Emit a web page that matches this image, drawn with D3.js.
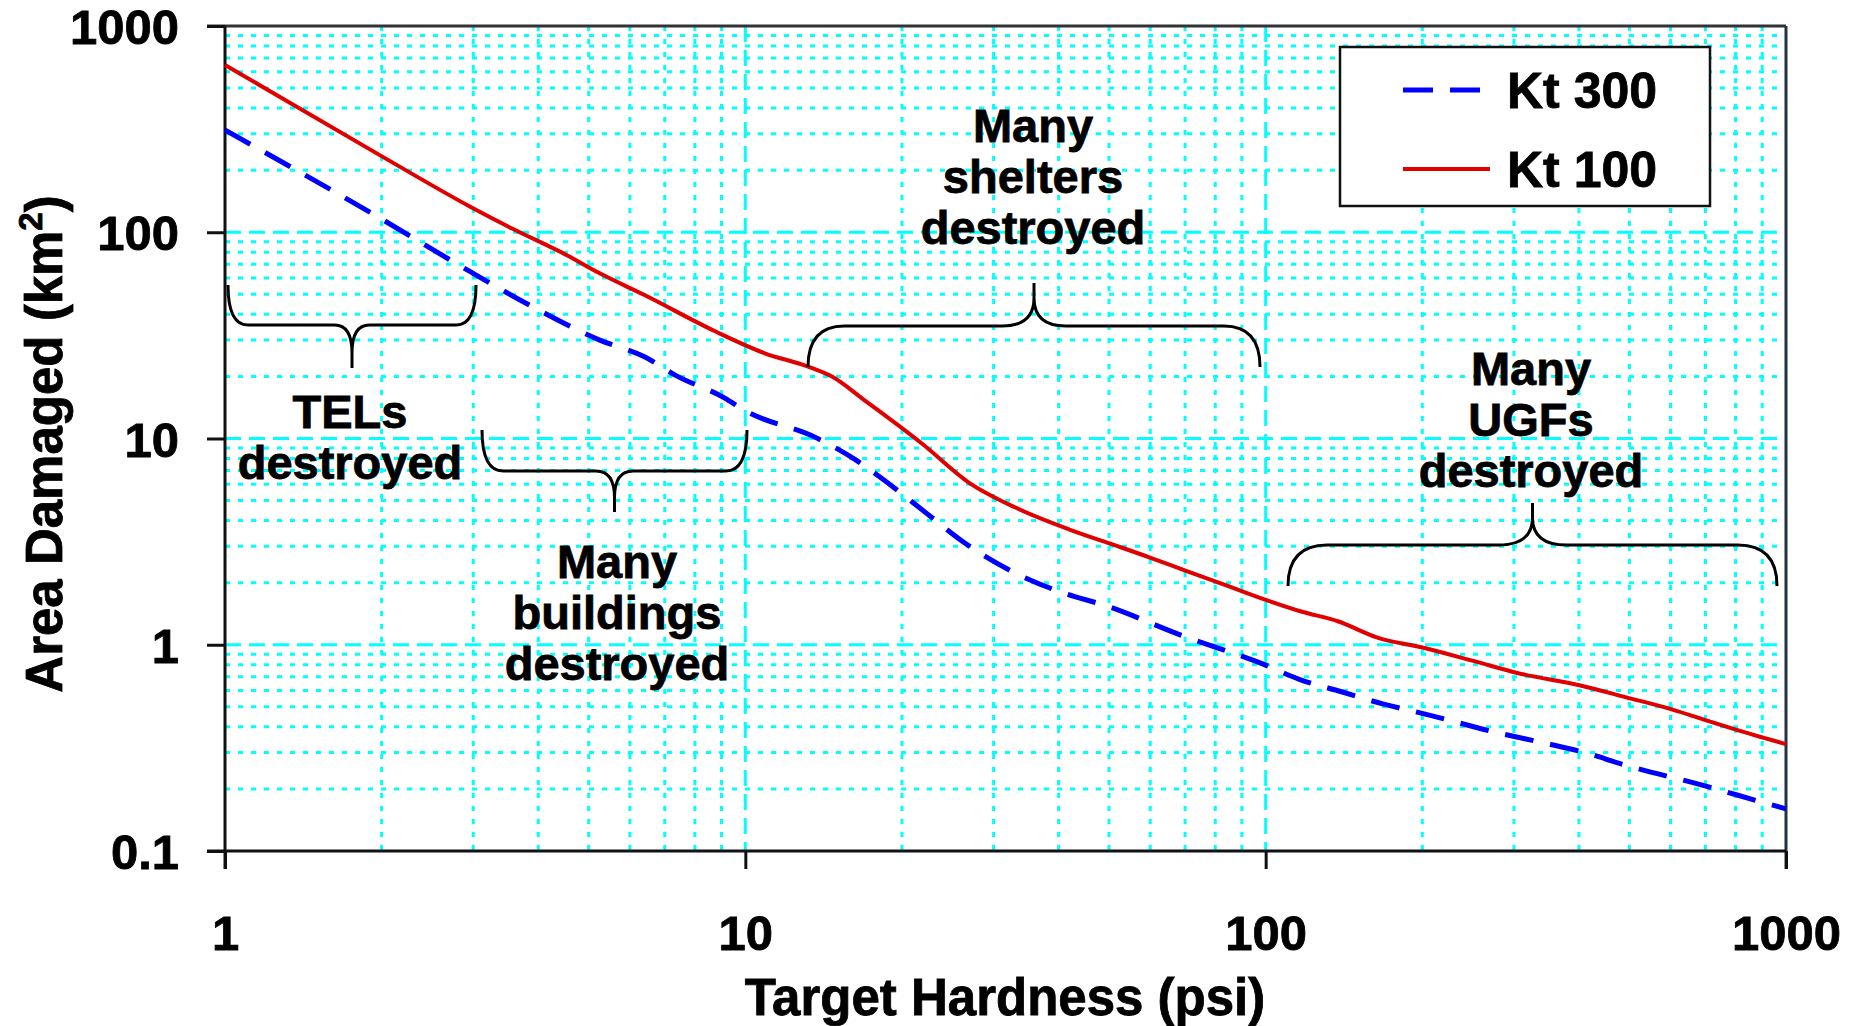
<!DOCTYPE html>
<html><head><meta charset="utf-8">
<script src="https://cdn.jsdelivr.net/npm/d3@7"></script>
<style>
body{margin:0;background:#fff}
svg{display:block}
text{font-family:"Liberation Sans",Arial,Helvetica,sans-serif;font-weight:bold;fill:#000;stroke:#000;stroke-width:0.8px}
</style>
</head><body>
<svg id="c" width="1851" height="1026"></svg>
<script>
// ---------- data ----------
const seriesNames = ["Kt 300", "Kt 100"];
const psiKt100  = [1, 2.01, 2.96, 3.57, 4.53, 5.25, 6.4, 8.77, 10.9, 13.2, 14.7, 16.9, 21.9, 26.8, 33.2, 42.1, 50.3, 60.1, 70.3, 84, 99.4, 117, 137.6, 164.5, 200, 252.6, 304.5, 402.7, 493, 603, 693, 798, 1000];
const areaKt100 = [647, 232, 133, 104, 77.6, 63.2, 49.6, 33, 25.9, 22.3, 19.9, 15.4, 9.4, 6.15, 4.6, 3.61, 3.09, 2.64, 2.28, 1.94, 1.66, 1.45, 1.30, 1.08, 0.97, 0.83, 0.73, 0.635, 0.556, 0.486, 0.435, 0.389, 0.33];
const psiKt300  = [1, 2.01, 2.96, 3.95, 5.25, 6.4, 7.33, 9.13, 9.96, 13.7, 16.3, 18, 22.4, 26.2, 33.2, 41.2, 49.2, 68.9, 98.4, 116, 140.4, 168.6, 200, 282, 345, 403, 493, 693, 875, 1000];
const areaKt300 = [313, 115, 64.4, 42.8, 30, 24.9, 20.3, 15.7, 13.7, 10.07, 7.87, 6.6, 4.3, 3.16, 2.21, 1.77, 1.55, 1.11, 0.81, 0.68, 0.59, 0.515, 0.465, 0.372, 0.333, 0.304, 0.26, 0.208, 0.176, 0.16];
const xTickValues = [1, 10, 100, 1000];
const yTickValues = [0.1, 1, 10, 100, 1000];
const xTitle = "Target Hardness (psi)";
const yTitle = "Area Damaged (km";
const annotationLines = [
  ["TELs", "destroyed"],
  ["Many", "buildings", "destroyed"],
  ["Many", "shelters", "destroyed"],
  ["Many", "UGFs", "destroyed"]
];

// ---------- layout ----------
const W = 1851, H = 1026;
const M = {l: 225, t: 26, r: 1786, b: 851};
const svg = d3.select("#c");
svg.append("rect").attr("width", W).attr("height", H).attr("fill", "#fff");

const x = d3.scaleLog().domain([1, 1000]).range([M.l, M.r]);
const y = d3.scaleLog().domain([0.1, 1000]).range([M.b, M.t]);

// ---------- grid ----------
const minorX = [], minorY = [];
[1, 10, 100].forEach(k => { for (let j = 2; j <= 9; j++) minorX.push(j * k); });
[0.1, 1, 10, 100].forEach(k => { for (let j = 2; j <= 9; j++) minorY.push(+(j * k).toPrecision(3)); });
const majorX = [10, 100], majorY = [1, 10, 100];
const grid = svg.append("g").attr("stroke", "#00ffff").attr("stroke-width", 3).attr("fill", "none");
grid.selectAll(".mx").data(minorX).join("line")
  .attr("x1", d => x(d)).attr("x2", d => x(d)).attr("y1", M.t).attr("y2", M.b)
  .attr("stroke-dasharray", "5,8");
grid.selectAll(".my").data(minorY).join("line")
  .attr("y1", d => y(d)).attr("y2", d => y(d)).attr("x1", M.l).attr("x2", M.r)
  .attr("stroke-dasharray", "5,8");
grid.selectAll(".Mx").data(majorX).join("line")
  .attr("x1", d => x(d)).attr("x2", d => x(d)).attr("y1", M.t).attr("y2", M.b)
  .attr("stroke-dasharray", "16,8");
grid.selectAll(".My").data(majorY).join("line")
  .attr("y1", d => y(d)).attr("y2", d => y(d)).attr("x1", M.l).attr("x2", M.r)
  .attr("stroke-dasharray", "16,8");

// ---------- frame ----------
const frame = svg.append("g").attr("stroke", "#111").attr("stroke-width", 3).attr("fill", "none");
frame.append("line").attr("x1", M.l - 18).attr("x2", M.r).attr("y1", M.t).attr("y2", M.t).attr("stroke", "#333");
frame.append("line").attr("x1", M.r).attr("x2", M.r).attr("y1", M.t).attr("y2", M.b + 18).attr("stroke", "#234");
frame.append("line").attr("x1", M.l).attr("x2", M.l).attr("y1", M.t).attr("y2", M.b + 18);
frame.append("line").attr("x1", M.l - 18).attr("x2", M.r).attr("y1", M.b).attr("y2", M.b);

// ---------- axes ----------
const fmt = d3.format("~g");
const gx = svg.append("g").attr("transform", `translate(0,${M.b})`)
  .call(d3.axisBottom(x).tickValues(xTickValues).tickFormat(fmt).tickSize(18).tickSizeOuter(0));
gx.select(".domain").remove();
gx.selectAll(".tick line").attr("stroke", "#111").attr("stroke-width", 3);
gx.selectAll(".tick text").attr("y", 99).attr("dy", 0).style("font-size", "49px")
  .style("font-family", '"Liberation Sans",Arial,sans-serif').style("font-weight", "bold").attr("fill", "#000");

const gy = svg.append("g").attr("transform", `translate(${M.l},0)`)
  .call(d3.axisLeft(y).tickValues(yTickValues).tickFormat(fmt).tickSize(18).tickPadding(28).tickSizeOuter(0));
gy.select(".domain").remove();
gy.selectAll(".tick line").attr("stroke", "#111").attr("stroke-width", 3);
gy.selectAll(".tick text").attr("dy", "0.36em").style("font-size", "49px")
  .style("font-family", '"Liberation Sans",Arial,sans-serif').style("font-weight", "bold").attr("fill", "#000");

// axis titles
svg.append("text").attr("x", 1005).attr("y", 1015).attr("text-anchor", "middle")
  .style("font-size", "51px").text(xTitle);
const yt = svg.append("text").attr("transform", "translate(62,444) rotate(-90)")
  .attr("text-anchor", "middle").style("font-size", "51px");
yt.append("tspan").text(yTitle);
yt.append("tspan").attr("dy", -20).style("font-size", "33px").text("2");
yt.append("tspan").attr("dy", 20).text(")");

// ---------- curves ----------
const line = d3.line().x(d => x(d[0])).y(d => y(d[1])).curve(d3.curveMonotoneX);
const kt300 = psiKt300.map((p, i) => [p, areaKt300[i]]);
const kt100 = psiKt100.map((p, i) => [p, areaKt100[i]]);
svg.append("path").datum(kt100).attr("d", line).attr("fill", "none")
  .attr("stroke", "#e00000").attr("stroke-width", 4);
svg.append("path").datum(kt300).attr("d", line).attr("fill", "none")
  .attr("stroke", "#0000ff").attr("stroke-width", 5).attr("stroke-dasharray", "29,17");

// ---------- braces ----------
function brace(x0, x1, yEnd, yLine, yTip) {
  const w = x1 - x0, xm = (x0 + x1) / 2;
  const rx = w * 0.08, rt = w * 0.07;
  const d = Math.sign(yTip - yLine);
  const hv = Math.abs(yTip - yLine) * 0.65;
  return `M${x0},${yEnd} Q${x0},${yLine} ${x0 + rx},${yLine} L${xm - rt},${yLine} Q${xm},${yLine} ${xm},${yLine + d * hv} L${xm},${yTip}` +
         ` M${xm},${yLine + d * hv} Q${xm},${yLine} ${xm + rt},${yLine} L${x1 - rx},${yLine} Q${x1},${yLine} ${x1},${yEnd}`;
}
const braces = [
  {x0: 228, x1: 476, yEnd: 285, yLine: 325, yTip: 368},
  {x0: 482, x1: 747, yEnd: 430, yLine: 471, yTip: 512},
  {x0: 808, x1: 1260, yEnd: 367, yLine: 326, yTip: 283},
  {x0: 1288, x1: 1777, yEnd: 586, yLine: 545, yTip: 503}
];
svg.append("g").selectAll("path").data(braces).join("path")
  .attr("d", b => brace(b.x0, b.x1, b.yEnd, b.yLine, b.yTip))
  .attr("fill", "none").attr("stroke", "#000").attr("stroke-width", 3);

const labelPos = [
  {cx: 350, y0: 428},
  {cx: 617, y0: 578},
  {cx: 1033, y0: 142},
  {cx: 1531, y0: 385}
];
annotationLines.forEach((lines, i) => {
  const t = svg.append("text").attr("text-anchor", "middle").style("font-size", "47px");
  lines.forEach((s, j) => t.append("tspan").attr("x", labelPos[i].cx).attr("y", labelPos[i].y0 + j * 51).text(s));
});

// ---------- legend ----------
const lg = svg.append("g");
lg.append("rect").attr("x", 1340).attr("y", 47).attr("width", 370).attr("height", 159)
  .attr("fill", "#fff").attr("stroke", "#111").attr("stroke-width", 2.5);
const legendItems = [
  {name: seriesNames[0], color: "#0000ff", dash: "30,17", w: 5, x2: 1482, y: 90},
  {name: seriesNames[1], color: "#e00000", dash: null, w: 4, x2: 1490, y: 169}
];
legendItems.forEach(it => {
  lg.append("line").attr("x1", 1403).attr("x2", it.x2).attr("y1", it.y).attr("y2", it.y)
    .attr("stroke", it.color).attr("stroke-width", it.w).attr("stroke-dasharray", it.dash);
  lg.append("text").attr("x", 1507).attr("y", it.y + 18).style("font-size", "50px").text(it.name);
});
</script>
</body></html>
